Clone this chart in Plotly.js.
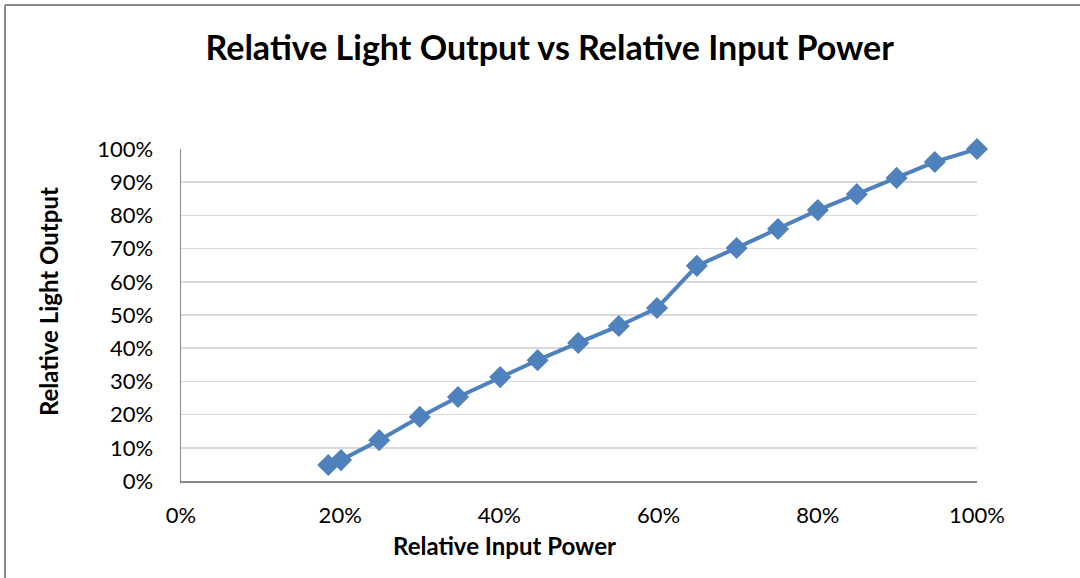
<!DOCTYPE html>
<html>
<head>
<meta charset="utf-8">
<script src="https://cdn.plot.ly/plotly-3.0.1.min.js"></script>
<style>html,body{margin:0;padding:0;background:#fff;}#chart{width:1080px;height:578px;}</style>
</head>
<body>
<div id="chart"></div>
<script>
const inputPower = [18.5, 20.1, 24.9, 30.0, 34.8, 40.1, 44.8, 49.9, 55.0, 59.8, 64.8, 69.8, 75.0, 80.0, 84.9, 89.9, 94.7, 100];
const lightOutput = [4.8, 6.3, 12.3, 19.3, 25.3, 31.3, 36.4, 41.6, 46.7, 52.1, 64.8, 70.2, 75.9, 81.6, 86.4, 91.3, 96.1, 100];
const xTicks = [0, 20, 40, 60, 80, 100];
const yTicks = [0, 10, 20, 30, 40, 50, 60, 70, 80, 90, 100];

const font = 'Lato, "Open Sans", sans-serif';
const trace = {
  x: inputPower, y: lightOutput, type: 'scatter', mode: 'lines+markers',
  line: {color: '#4f81bd', width: 4},
  marker: {symbol: 'diamond', size: 17, color: '#4f81bd'},
  cliponaxis: false, showlegend: false, hoverinfo: 'skip'
};
const layout = {
  width: 1080, height: 578,
  margin: {l: 181, r: 103, t: 149, b: 97},
  paper_bgcolor: '#fff', plot_bgcolor: '#fff',
  font: {family: font, color: '#000', size: 22},
  title: {text: '<b>Relative Light Output vs Relative Input Power</b>', font: {family: font, size: 34, color: '#000'},
    xref: 'container', yref: 'container', x: 0.509, y: 0.917, xanchor: 'center', yanchor: 'middle'},
  xaxis: {
    range: [0, 100], tickvals: xTicks, ticktext: xTicks.map(v => v + '%'),
    showgrid: false, zeroline: false, showline: true, linecolor: '#868686', linewidth: 1.5,
    ticks: '', ticklabelstandoff: 14, tickfont: {size: 22}
  },
  yaxis: {
    range: [0, 100], tickvals: yTicks, ticktext: yTicks.map(v => v + '%'),
    showgrid: true, gridcolor: '#d9d9d9', gridwidth: 1.5, zeroline: false,
    showline: true, linecolor: '#868686', linewidth: 1.5,
    ticks: '', ticklabelstandoff: 22, tickfont: {size: 22}
  },
  annotations: [
    {text: '<b>Relative Input Power</b>', xref: 'paper', yref: 'paper', x: 0.407, y: -0.195,
     xanchor: 'center', yanchor: 'middle', showarrow: false, font: {size: 24}},
    {text: '<b>Relative Light Output</b>', xref: 'paper', yref: 'paper', x: -0.167, y: 0.539,
     xanchor: 'center', yanchor: 'middle', showarrow: false, textangle: -90, font: {size: 24}}
  ],
  shapes: [
    {type: 'line', xref: 'paper', yref: 'paper', x0: -0.2211, x1: 1.13, y0: 1.4337, y1: 1.4337, line: {color: '#898989', width: 2}},
    {type: 'line', xref: 'paper', yref: 'paper', x0: -0.2211, x1: -0.2211, y0: 1.4337, y1: -0.3, line: {color: '#898989', width: 2}}
  ]
};
Plotly.newPlot('chart', [trace], layout, {displayModeBar: false, staticPlot: true});
</script>
</body>
</html>
